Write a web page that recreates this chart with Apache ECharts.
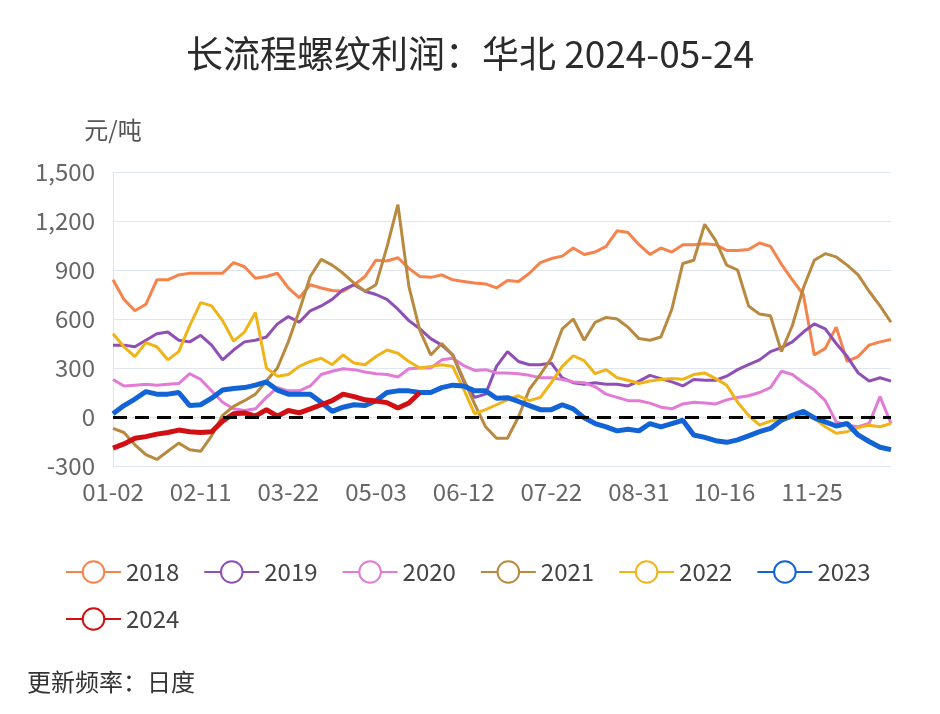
<!DOCTYPE html>
<html>
<head>
<meta charset="utf-8">
<title>长流程螺纹利润：华北</title>
<script src="https://cdn.jsdelivr.net/npm/echarts@6/dist/echarts.min.js"></script>
<style>
    html, body { margin: 0; padding: 0; background: #fff; }
    #chart { width: 940px; height: 714px; }
</style>
</head>
<body>
<div id="chart"></div>
<script>
// x 轴：日历日（MM-DD），节假日空缺
const skipDays = ['05-01', '05-02', '10-01', '10-02', '10-03', '10-04', '10-05', '10-06', '10-07'];
const tickLabels = ['01-02', '02-11', '03-22', '05-03', '06-12', '07-22', '08-31', '10-16', '11-25'];
const yTicks = [-300, 0, 300, 600, 900, 1200, 1500];

const days = [];
for (let d = new Date(Date.UTC(2024, 0, 2)); d.getUTCFullYear() === 2024; d.setUTCDate(d.getUTCDate() + 1)) {
    const s = String(d.getUTCMonth() + 1).padStart(2, '0') + '-' + String(d.getUTCDate()).padStart(2, '0');
    if (!skipDays.includes(s)) days.push(s);
}

// 每隔 STEP 个交易日读一个值（元/吨）
const STEP = 5;
const years = ['2018', '2019', '2020', '2021', '2022', '2023', '2024'];
const colors = ['#f5834b', '#8f4fb5', '#e27bd5', '#b8893f', '#f0b418', '#1264d6', '#d20f12'];

const v2018 = [
    840, 720, 650, 690, 840, 840, 870, 880, 880, 880,
    880, 945, 920, 850, 860, 880, 790, 730, 810, 790,
    775, 770, 810, 860, 960, 955, 975, 910, 860, 855,
    870, 840, 830, 820, 815, 790, 835, 830, 880, 945,
    970, 985, 1035, 995, 1010, 1045, 1140, 1130, 1055, 995,
    1035, 1010, 1055, 1055, 1060, 1055, 1020, 1020, 1025, 1065,
    1045, 935, 840, 750, 380, 420, 550, 340, 370, 440,
    460, 475
];
const v2019 = [
    440, 440, 430, 470, 510, 520, 470, 460, 500, 440,
    350, 410, 460, 470, 490, 570, 615, 580, 650, 680,
    720, 780, 810, 770, 750, 720, 660, 590, 540, 480,
    440, 380, 220, 120, 140, 310, 400, 340, 320, 320,
    330, 240, 210, 200, 210, 200, 200, 190, 220, 255,
    235, 215, 190, 230, 225, 225, 250, 290, 320, 350,
    400, 425, 460, 520, 570, 540, 450, 370, 270, 220,
    240, 220
];
const v2020 = [
    230, 190, 195, 200, 195, 200, 205, 265, 230, 160,
    90, 50, 40, 50, 120, 180, 160, 160, 190, 260,
    280, 295, 290, 275, 265, 260, 245, 295, 300, 300,
    350, 360, 315, 285, 290, 270, 270, 265, 255, 240,
    240, 230, 215, 210, 185, 140, 120, 100, 100, 85,
    60, 50, 80, 90, 85, 80, 105, 120, 130, 150,
    180, 280, 260, 210, 165, 100, -30, -50, -60, -40,
    125, -40
];
const v2021 = [
    -70, -95, -170, -230, -260, -210, -160, -200, -210, -115,
    10, 65, 100, 140, 220, 300, 460, 650, 860, 965,
    930, 880, 820, 770, 810, 1040, 1300, 800, 530, 380,
    450, 380, 230, 80, -60, -130, -130, 0, 170, 260,
    360, 540, 600, 470, 580, 610, 600, 550, 480, 470,
    490, 660, 940, 960, 1180, 1080, 930, 900, 680, 630,
    620, 400, 560, 790, 960, 1000, 980, 930, 870, 770,
    680, 580
];
const v2022 = [
    510, 430, 370, 455, 430, 350, 400, 560, 700, 680,
    590, 465, 520, 640, 300, 250, 260, 310, 340, 360,
    320, 380, 330, 320, 370, 410, 390, 340, 300, 310,
    320, 310, 170, 20, 45, 75, 105, 130, 100, 120,
    210, 310, 375, 345, 265, 290, 240, 225, 205, 220,
    230, 235, 231, 260, 270, 235, 195, 90, 10, -50,
    -25, -15, -5, 10, -10, -60, -100, -90, -65, -50,
    -60, -40
];
const v2023 = [
    20, 70, 110, 155, 140, 140, 150, 70, 75, 115,
    165, 175, 180, 195, 215, 165, 140, 140, 140, 90,
    35, 60, 75, 70, 100, 150, 160, 160, 150, 150,
    180, 195, 190, 160, 160, 115, 118, 95, 70, 45,
    45, 75, 50, -5, -40, -60, -85, -75, -85, -40,
    -60, -40, -20, -110, -125, -145, -155, -140, -115, -90,
    -70, -20, 10, 35, -5, -30, -55, -40, -110, -150,
    -185, -200
];
const v2024 = [
    -190, -165, -130, -120, -105, -95, -80, -90, -95, -90,
    -25, 20, 25, 5, 45, 5, 40, 25, 50, 75,
    100, 140, 125, 105, 98, 88, 55, 86, 150
];
const values = [v2018, v2019, v2020, v2021, v2022, v2023, v2024];
const widths = [3, 3, 3, 3, 3, 5, 5];

const fontFamily = '"Noto Sans CJK SC", "Noto Sans", sans-serif';

const series = years.map((name, k) => ({
    name: name,
    type: 'line',
    symbol: 'emptyCircle',
    showSymbol: false,
    color: colors[k],
    lineStyle: { width: widths[k], color: colors[k] },
    data: values[k].map((v, i) => [i * STEP, v]),
}));
series.push({
    name: 'zero',
    type: 'line',
    data: [],
    silent: true,
    markLine: {
        silent: true,
        symbol: 'none',
        label: { show: false },
        lineStyle: { color: '#000', type: [14, 8], width: 3 },
        data: [{ yAxis: 0 }],
    },
});

const legendBase = {
    left: 65,
    padding: 0,
    itemWidth: 55,
    itemHeight: 27,
    itemGap: 24,
    textStyle: { fontSize: 24, color: '#444', fontFamily: fontFamily },
};

const chart = echarts.init(document.getElementById('chart'));
chart.setOption({
    backgroundColor: '#fff',
    animation: false,
    textStyle: { fontFamily: fontFamily },
    title: [
        {
            text: '长流程螺纹利润：华北 2024-05-24',
            left: 'center',
            top: 30,
            textStyle: { fontSize: 37, fontWeight: 'normal', color: '#2b2b2b', fontFamily: fontFamily },
        },
        {
            text: '更新频率：日度',
            left: 22,
            top: 665,
            textStyle: { fontSize: 24, fontWeight: 'normal', color: '#333', fontFamily: fontFamily },
        },
    ],
    legend: [
        Object.assign({ data: years.slice(0, 6), top: 560 }, legendBase),
        Object.assign({ data: years.slice(6), top: 607 }, legendBase),
    ],
    grid: { left: 113, right: 49, top: 172, bottom: 248, containLabel: false },
    xAxis: {
        type: 'category',
        data: days,
        boundaryGap: false,
        axisTick: { show: false },
        axisLine: { show: true, lineStyle: { color: '#e0e6f1' } },
        axisLabel: {
            interval: (idx, val) => tickLabels.includes(val),
            fontSize: 24,
            color: '#666',
            margin: 14,
        },
    },
    yAxis: {
        type: 'value',
        min: yTicks[0],
        max: yTicks[yTicks.length - 1],
        interval: 300,
        name: '元/吨',
        nameGap: 30,
        nameTextStyle: { fontSize: 24, color: '#555' },
        axisLine: { show: true, lineStyle: { color: '#e0e6f1' } },
        axisTick: { show: false },
        splitLine: { lineStyle: { color: '#e0e6f1' } },
        axisLabel: {
            fontSize: 24,
            color: '#666',
            margin: 18,
            formatter: v => v.toLocaleString('en-US'),
        },
    },
    series: series,
});
</script>
</body>
</html>
